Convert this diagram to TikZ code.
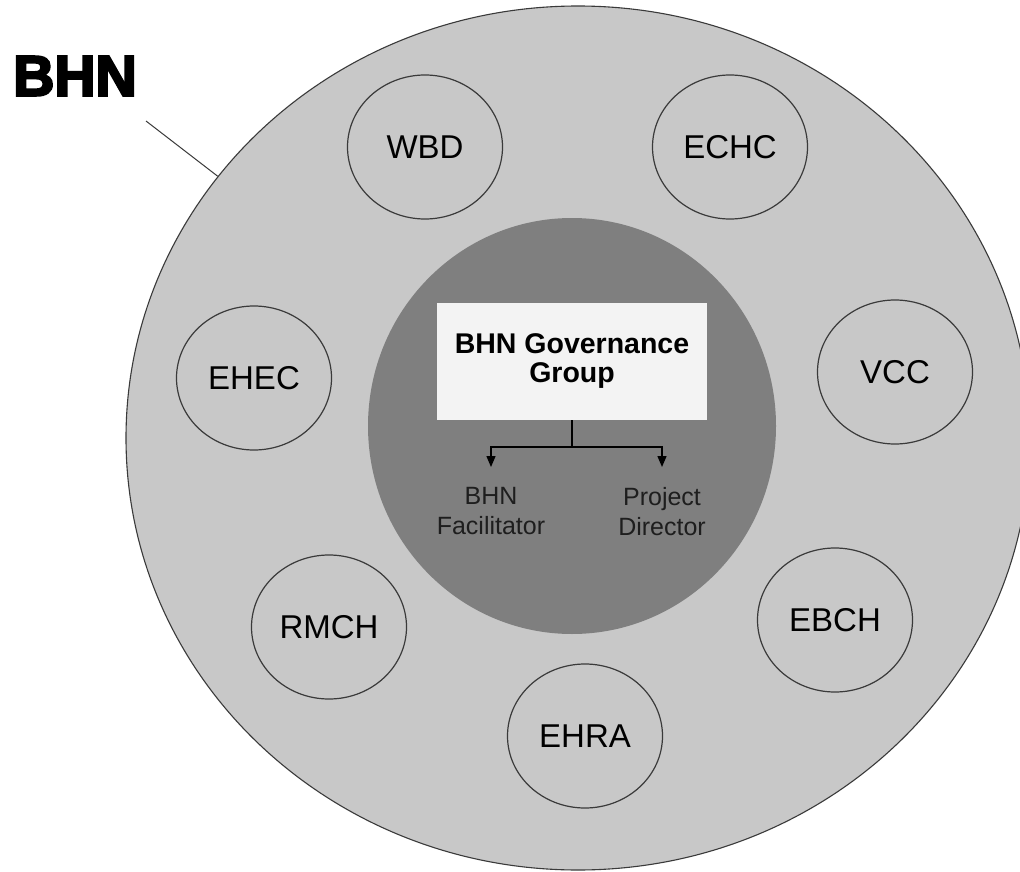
\documentclass[tikz,border=0pt]{standalone}
\usepackage{fontspec}
\setmainfont{Liberation Sans}
\newfontfamily\heavyfont[FakeBold=4]{Liberation Sans Bold}
\usetikzlibrary{shapes.geometric,arrows.meta}
\definecolor{ringgray}{HTML}{C8C8C8}
\definecolor{coregray}{HTML}{7F7F7F}
\definecolor{boxgray}{HTML}{F3F3F3}
\definecolor{edgegray}{HTML}{3A3A3A}
\definecolor{coretext}{HTML}{1E1E1E}
\tikzset{
  member/.style={ellipse, draw=edgegray, line width=1.2pt, minimum width=155pt, minimum height=144pt, inner sep=0pt,
    font=\fontsize{33}{36}\selectfont, text=black},
  sublabel/.style={anchor=north, inner ysep=20pt, align=center, text=coretext, font=\fontsize{25}{30}\selectfont},
  orgline/.style={line width=1.4pt, black},
  orgarrow/.style={orgline, -{Triangle[length=11pt,width=9pt]}}
}
\begin{document}
\begin{tikzpicture}[x=1pt,y=-1pt]
\useasboundingbox (0,0) rectangle (1020,872);
\fill[white] (0,0) rectangle (1020,872);
% outer ring
\node[ellipse, fill=ringgray, draw=edgegray, line width=1.1pt, minimum width=904pt, minimum height=864pt, inner sep=0pt] (ring) at (578,438) {};
% inner core
\node[ellipse, fill=coregray, minimum width=408pt, minimum height=416pt, inner sep=0pt] (core) at (572,426) {};
% title and leader
\node[font=\heavyfont\fontsize{57}{62}\selectfont, inner sep=0pt] (title) at (75,76) {BHN};
\coordinate (leadstart) at (146,121);
\draw[line width=1pt, edgegray] (leadstart) -- (ring.144.5);
% members
\node[member] (wbd) at (425,147) {WBD};
\node[member] (echc) at (730,147) {ECHC};
\node[member] (ehec) at (254,378) {EHEC};
\node[member] (vcc) at (895,372) {VCC};
\node[member] (rmch) at (329,627) {RMCH};
\node[member] (ebch) at (835,620) {EBCH};
\node[member] (ehra) at (585,736) {EHRA};
% governance box
\node[rectangle, fill=boxgray, minimum width=270pt, minimum height=117pt, align=center,
  font=\bfseries\fontsize{28.5}{29}\selectfont] (gov) at (572,361.5) {BHN Governance\\Group};
\coordinate (split) at (572,447);
\node[sublabel] (fac) at (491,467) {BHN\\Facilitator};
\node[sublabel] (dir) at (662,467) {Project\\Director};
\draw[orgline] (gov.south) -- (split);
\draw[orgarrow] (split) -| (fac.north);
\draw[orgarrow] (split) -| (dir.north);
\end{tikzpicture}
\end{document}
